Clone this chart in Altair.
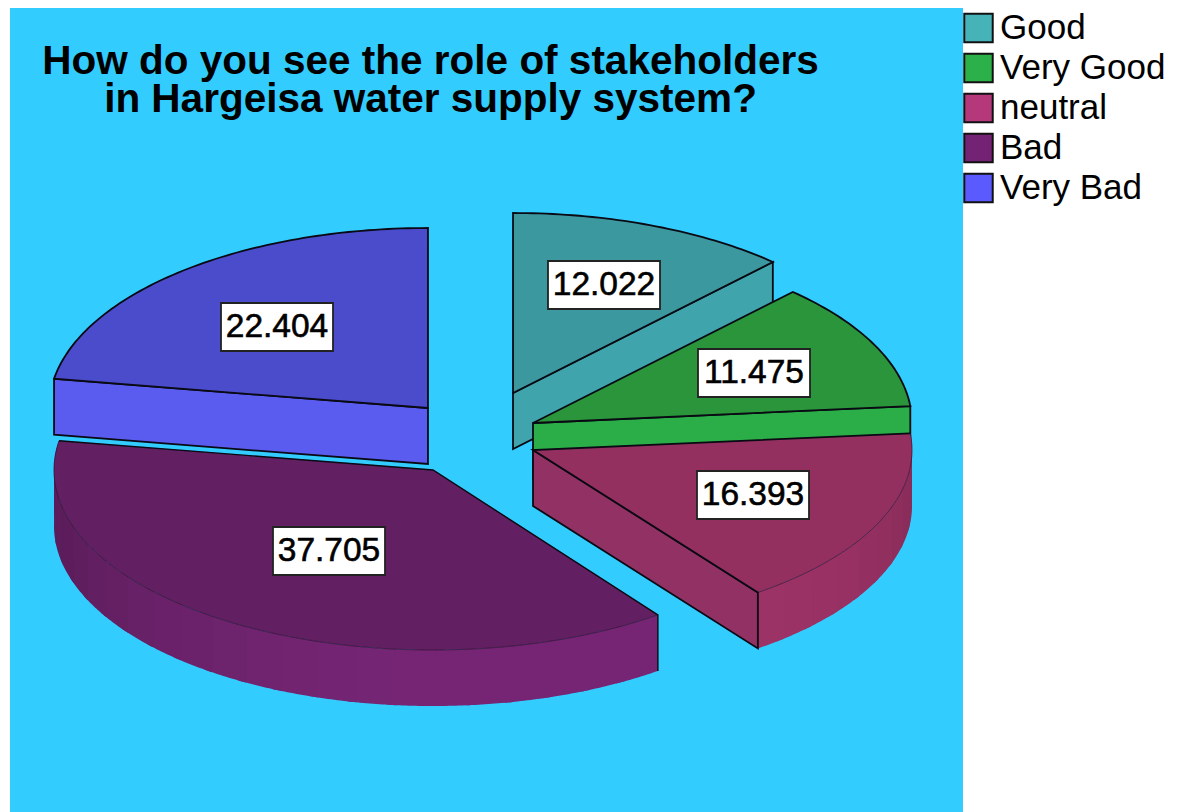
import math
import altair as alt

# ---- data ----
CATEGORIES = ["Good", "Very Good", "neutral", "Bad", "Very Bad"]
SHARES = [12.022, 11.475, 16.393, 37.705, 22.404]
TITLE_LINES = ["How do you see the role of stakeholders", "in Hargeisa water supply system?"]

# ---- colours ----
LEGEND_COLORS = ["#45b3b8", "#2cb04a", "#b5397a", "#742374", "#5a5aff"]
TOP_COLORS = ["#3c989f", "#2a953a", "#933060", "#622063", "#4a4ccc"]
FLAT_WALL_COLORS = ["#3fa4ab", "#2bad48", "#923163", "#722575", "#5a5cf0"]
CURVE_WALL_COLORS = ["#3fa4ab", "#2bad48", "#a03469", "#772676", "#5a5cf0"]
BLUE = "#33ccff"

# ---- layout of the drawing, in picture pixels ----
APEX = {"Good": (513, 393), "Very Good": (533, 423), "neutral": (533, 450),
        "Bad": (433, 470), "Very Bad": (428, 408)}
LABEL_CENTER = {"Good": (604, 285), "Very Good": (754, 373), "neutral": (753, 495),
                "Bad": (329, 551), "Very Bad": (277, 327)}
RADIUS_Y = {"Good": 180, "Very Good": 180, "neutral": 177, "Bad": 180, "Very Bad": 180}
RX, DEPTH = 379, 56
BOX_W, BOX_H = 112, 48


def pt(cat, deg, drop=0):
    ax, ay = APEX[cat]
    t = math.radians(deg)
    return [ax + RX * math.sin(t), ay - RADIUS_Y[cat] * math.cos(t) + drop]


def arc(cat, a0, a1, drop=0, step=1.0):
    n = max(2, int(abs(a1 - a0) / step))
    return [pt(cat, a0 + (a1 - a0) * i / n, drop) for i in range(n + 1)]


def poly(points, **props):
    return {"type": "Feature", "properties": props,
            "geometry": {"type": "Polygon", "coordinates": [points + [points[0]]]}}


def line(points, **props):
    return {"type": "Feature", "properties": props,
            "geometry": {"type": "LineString", "coordinates": points}}


def shade(hex_color, f):
    r, g, b = (int(hex_color[i:i + 2], 16) for i in (1, 3, 5))
    return "#%02x%02x%02x" % (int(r * f), int(g * f), int(b * f))


total = sum(SHARES)
spans, cur = {}, 0.0
for c, s in zip(CATEGORIES, SHARES):
    d = s / total * 360
    spans[c] = (cur, cur + d)
    cur += d

legend_features, features, overlay = [], [], []
EDGE = "#0a0a14"


def add_top(c, stroke=True):
    a0, a1 = spans[c]
    i = CATEGORIES.index(c)
    points = [list(APEX[c])] + arc(c, a0, a1)
    features.append(poly(points, fill=TOP_COLORS[i],
                         stroke=EDGE if stroke else TOP_COLORS[i],
                         sw=1.8 if stroke else 0.3))


def add_flat(c, deg):
    i = CATEGORIES.index(c)
    ax, ay = APEX[c]
    features.append(poly([[ax, ay], pt(c, deg), pt(c, deg, DEPTH), [ax, ay + DEPTH]],
                         fill=FLAT_WALL_COLORS[i], stroke=EDGE, sw=1.8))


def add_curve(c):
    a0, a1 = spans[c]
    i = CATEGORIES.index(c)
    step = 6.0
    d = a0
    while d < a1 - 1e-6:
        e = min(d + step, a1)
        mid = (d + e) / 2
        f = 0.78 + 0.22 * max(0.0, math.cos(math.radians(mid - 165)))
        col = shade(CURVE_WALL_COLORS[i], f)
        over = min(e + 1.5, a1)
        features.append(poly(arc(c, d, over, step=0.5) + arc(c, over, d, DEPTH, step=0.5),
                             fill=col, stroke="none", sw=0))
        d = e


for c in CATEGORIES:
    a0, a1 = spans[c]
    legend_features.append(poly([list(APEX[c])] + arc(c, a0, a1), name=c))

# back to front
add_flat("Good", spans["Good"][1]); add_top("Good")
add_flat("Very Good", spans["Very Good"][1]); add_top("Very Good")
add_flat("Very Bad", spans["Very Bad"][0]); add_top("Very Bad")
add_flat("neutral", spans["neutral"][1]); add_curve("neutral"); add_top("neutral", False)
add_curve("Bad"); add_top("Bad", False)

for c in ["neutral", "Bad"]:
    a0, a1 = spans[c]
    overlay.append(line(arc(c, a0, a1), stroke="#2a0f2a", sw=0.6))
overlay.append(line([pt("neutral", spans["neutral"][0]), list(APEX["neutral"]),
                     pt("neutral", spans["neutral"][1]),
                     pt("neutral", spans["neutral"][1], DEPTH)], stroke=EDGE, sw=1.8))
overlay.append(line([pt("Bad", spans["Bad"][1]), list(APEX["Bad"]), pt("Bad", spans["Bad"][0]),
                     pt("Bad", spans["Bad"][0], DEPTH)], stroke=EDGE, sw=1.4))

boxes, labels = [], []
for c, s in zip(CATEGORIES, SHARES):
    x, y = LABEL_CENTER[c]
    boxes.append(poly([[x - BOX_W / 2, y - BOX_H / 2], [x + BOX_W / 2, y - BOX_H / 2],
                       [x + BOX_W / 2, y + BOX_H / 2], [x - BOX_W / 2, y + BOX_H / 2]],
                      fill="#ffffff", stroke="#222222", sw=1.8))
    labels.append({"x": x, "y": y, "t": f"{s:.3f}"})

titles = [{"x": 430.5, "y": 62, "t": "\n".join(TITLE_LINES)}]
background = [poly([[10, 7], [963, 7], [963, 812], [10, 812]], fill=BLUE, stroke="none", sw=0)]


def shapes(feats):
    return alt.Chart(alt.Data(values=feats)).mark_geoshape().encode(
        fill=alt.Fill("properties.fill:N", scale=None),
        stroke=alt.Stroke("properties.stroke:N", scale=None),
        strokeWidth=alt.StrokeWidth("properties.sw:Q", scale=None),
    )


legend_layer = alt.Chart(alt.Data(values=legend_features)).mark_geoshape(
    stroke="#111111", strokeWidth=2
).encode(
    color=alt.Color("properties.name:N",
                    scale=alt.Scale(domain=CATEGORIES, range=LEGEND_COLORS),
                    legend=alt.Legend(
                        title=None, orient="none", legendX=953, legendY=2.5,
                        symbolType="square", symbolSize=810, symbolStrokeColor="#111111",
                        symbolStrokeWidth=2, symbolOpacity=1, labelFont="Liberation Sans",
                        labelFontSize=35, labelColor="#000000", labelLimit=300,
                        rowPadding=3, labelOffset=4, padding=0)),
)

lines_layer = alt.Chart(alt.Data(values=overlay)).mark_geoshape(filled=False).encode(
    stroke=alt.Stroke("properties.stroke:N", scale=None),
    strokeWidth=alt.StrokeWidth("properties.sw:Q", scale=None),
)

label_layer = alt.Chart(alt.Data(values=labels)).mark_text(
    font="Liberation Sans", fontSize=33.5, color="#000000", stroke="#000000", strokeWidth=0.6
).encode(longitude="x:Q", latitude="y:Q", text="t:N")

title_layer = alt.Chart(alt.Data(values=titles)).mark_text(
    font="Liberation Sans", fontSize=40.5, fontWeight="bold", color="#000000",
    lineBreak="\n", lineHeight=38
).encode(longitude="x:Q", latitude="y:Q", text="t:N")

chart = alt.layer(
    legend_layer, shapes(background), shapes(features), lines_layer,
    shapes(boxes), label_layer, title_layer,
).project(type="identity", scale=1, translate=[-8, -8]).properties(
    width=1166, height=804, padding=0, autosize="none"
).configure_view(stroke=None)

chart.save("out.html", embed_options={"renderer": "svg", "actions": False})
